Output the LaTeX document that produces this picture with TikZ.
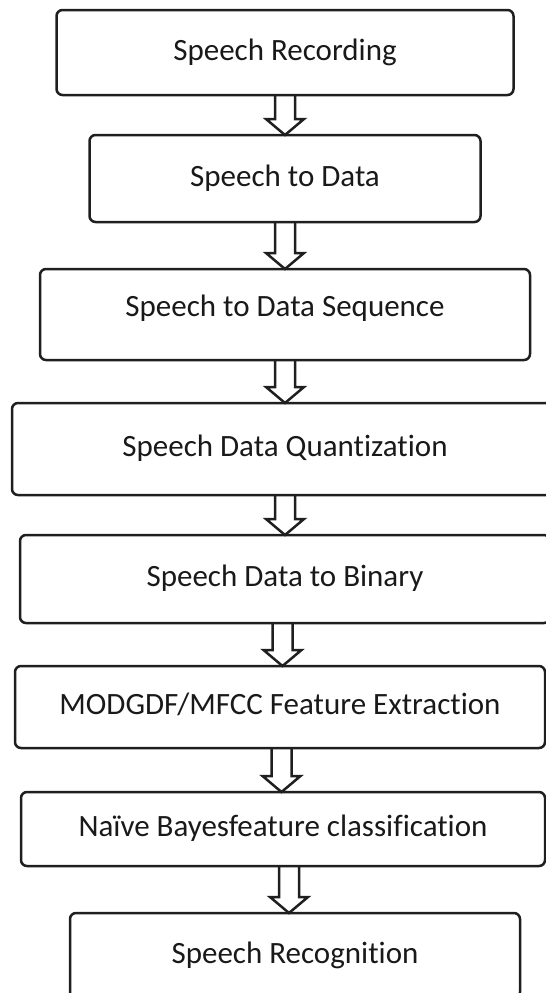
\documentclass[tikz,border=0pt]{standalone}
\usepackage{fontspec}
\setmainfont{Carlito}[Ligatures=NoCommon]
\usetikzlibrary{positioning,calc}

% hollow block arrow between two stages
\newcommand{\flowarrow}[2]{%
    \draw[hollow arrow] let \p1=(#1.south), \p2=(#2.north), \n1={(\x1+\x2)/2} in
        (\n1-10pt,\y1) -- (\n1-10pt,\y2+16pt) -- (\n1-19pt,\y2+16pt) -- (\n1,\y2)
        -- (\n1+19pt,\y2+16pt) -- (\n1+10pt,\y2+16pt) -- (\n1+10pt,\y1);
}

\begin{document}
\begin{tikzpicture}[
            line width = 2.5pt, % all strokes
            draw = black!88
        ]

        \tikzset{
            stage/.style={
                draw = black!88,
                rounded corners = 6pt,
                outer sep = 0pt,
                inner sep = 0pt,
                text = black!90,
                text height = 22pt,
                text depth = 7pt,
                font = \fontsize{31}{37}\selectfont
            },
            hollow arrow/.style={
                draw = black!88,
                line join = miter
            }
        }

        \path[use as bounding box, clip] (0,0) rectangle (546pt,-993pt);

        \node[stage, minimum width=457pt, minimum height=85pt] (rec) at (285pt,-52.5pt) {Speech Recording};
        \node[stage, minimum width=391pt, minimum height=87pt] (todata) [below=40pt of rec] {Speech to Data};
        \node[stage, minimum width=490pt, minimum height=91pt, text depth=18pt] (seq) [below=47pt of todata] {Speech to Data Sequence};
        \node[stage, minimum width=546pt, minimum height=92pt] (quant) [below=43pt of seq] {Speech Data Quantization};
        \node[stage, minimum width=530pt, minimum height=88pt] (binary) [below=40pt of quant] {Speech Data to Binary};
        \node[stage, minimum width=530pt, minimum height=82pt] (feat) [below=43pt of binary, xshift=-5pt] {MODGDF/MFCC Feature Extraction};
        \node[stage, minimum width=524pt, minimum height=74pt] (naive) [below=44pt of feat, xshift=3pt] {Naïve Bayesfeature classification};
        \node[stage, minimum width=450pt, minimum height=85pt] (recog) [below=47pt of naive, xshift=12pt] {Speech Recognition};

        \flowarrow{rec}{todata}
        \flowarrow{todata}{seq}
        \flowarrow{seq}{quant}
        \flowarrow{quant}{binary}
        \flowarrow{binary}{feat}
        \flowarrow{feat}{naive}
        \flowarrow{naive}{recog}

    \end{tikzpicture}
\end{document}
